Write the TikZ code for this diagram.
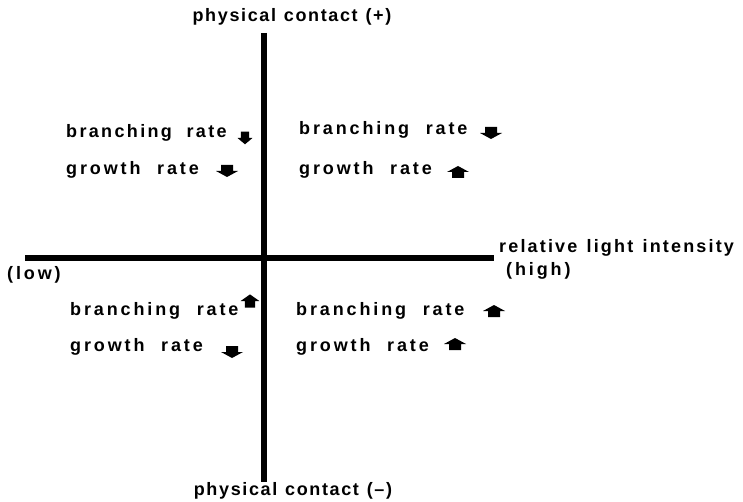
\documentclass[tikz,border=0pt]{standalone}
\usepackage{fontspec}
\newfontfamily\labfont[LetterSpace=16,WordSpace=2.1]{Liberation Sans}
\newfontfamily\labfontn[LetterSpace=13,WordSpace=2.0]{Liberation Sans}
\newfontfamily\axfont[LetterSpace=9,WordSpace=1.2]{Liberation Sans}
\newfontfamily\relfont[LetterSpace=12,WordSpace=1.3]{Liberation Sans}
\tikzset{
  lab/.style={font=\labfont\bfseries\fontsize{18}{20}\selectfont, inner sep=0pt, anchor=west},
  labn/.style={font=\labfontn\bfseries\fontsize{18}{20}\selectfont, inner sep=0pt, anchor=west},
  axlab/.style={font=\axfont\bfseries\fontsize{18}{20}\selectfont, inner sep=0pt, anchor=center},
  rellab/.style={font=\relfont\bfseries\fontsize{18}{20}\selectfont, inner sep=0pt, anchor=west},
  axis/.style={line width=6pt},
  pics/downarr/.style={code={\fill (-6,-6) -- (6,-6) -- (6,0) -- (11,0) -- (0,6) -- (-11,0) -- (-6,0) -- cycle;}},
  pics/uparr/.style={code={\fill (-6,6) -- (6,6) -- (6,0) -- (11,0) -- (0,-6) -- (-11,0) -- (-6,0) -- cycle;}},
}
\begin{document}
\begin{tikzpicture}[x=1pt,y=-1pt]
\useasboundingbox (0,0) rectangle (743,502);
\coordinate (vt) at (264,33);
\coordinate (vb) at (264,482);
\coordinate (hl) at (25,258);
\coordinate (hr) at (494,258);
\draw[axis] (vt) -- (vb);
\draw[axis] (hl) -- (hr);
\node[axlab] (top) at (292,17) {physical contact (+)};
\node[axlab] (bot) at (293,491) {physical contact (\textendash)};
\node[rellab] (rel) at (499,248) {relative light intensity};
\node[lab] (high) at (506,271) {(high)};
\node[lab] (low) at (7,275) {(low)};
% upper left
\node[labn] (ul1) at (66,133) {branching rate};
\pic[xscale=0.68, yscale=1.05] at (245,138) {downarr};
\node[lab] (ul2) at (66,170) {growth rate};
\pic at (227,171) {downarr};
% upper right
\node[lab] (ur1) at (299,130) {branching rate};
\pic at (491,133) {downarr};
\node[lab] (ur2) at (299,170) {growth rate};
\pic at (458,172) {uparr};
% lower left
\node[lab] (ll1) at (70,311) {branching rate};
\pic[xscale=0.85, yscale=1.1] at (250,301) {uparr};
\node[lab] (ll2) at (70,347) {growth rate};
\pic at (232,352) {downarr};
% lower right
\node[lab] (lr1) at (296,311) {branching rate};
\pic at (494,311) {uparr};
\node[lab] (lr2) at (296,347) {growth rate};
\pic at (455,344) {uparr};
\end{tikzpicture}
\end{document}
